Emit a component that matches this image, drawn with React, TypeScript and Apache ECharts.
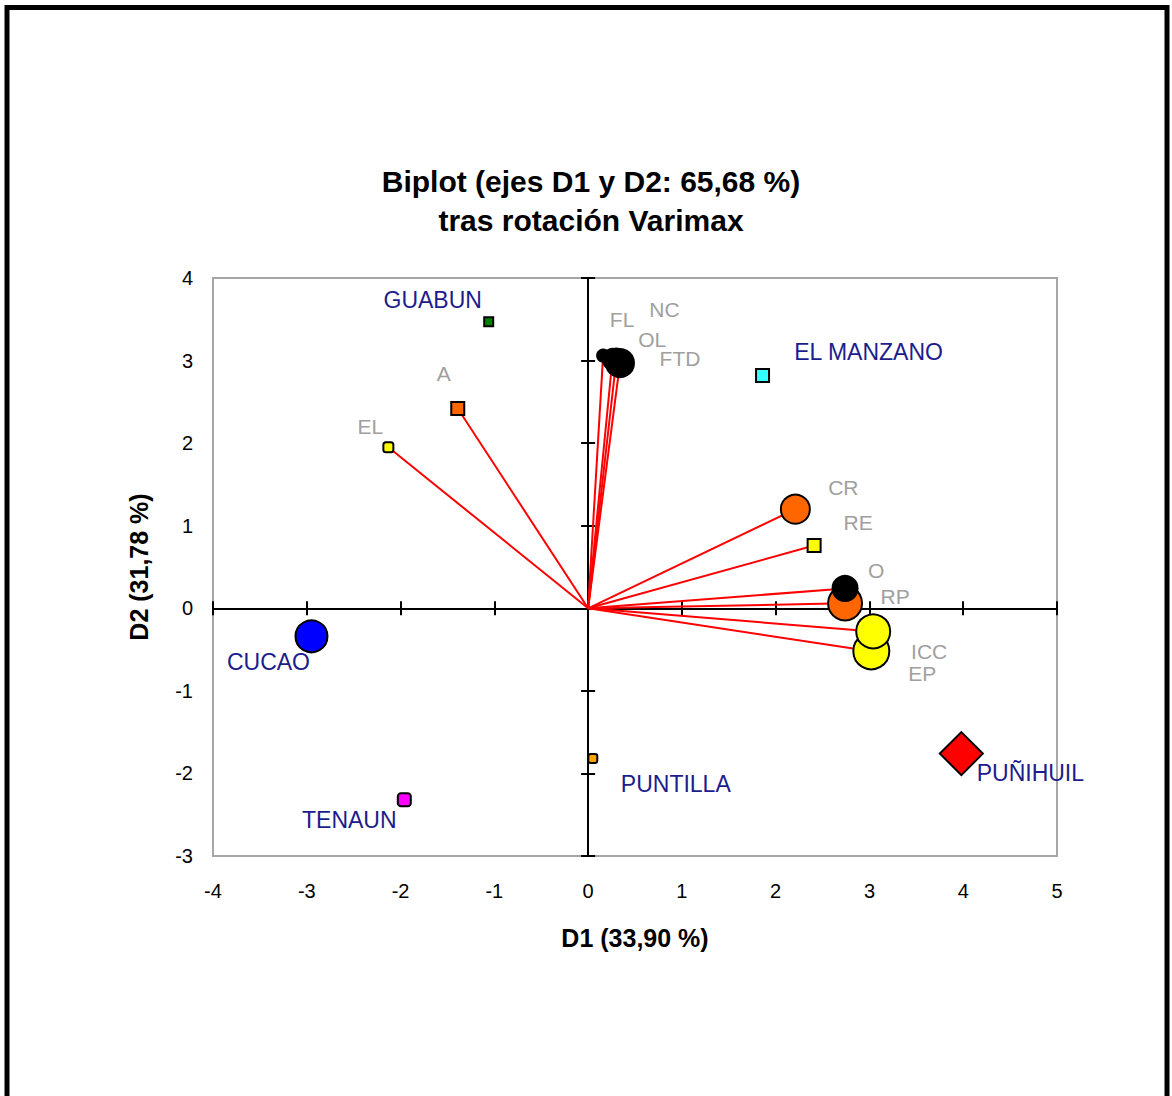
import React, { useEffect, useRef } from "react";
import * as echarts from "echarts";

// Variables (red vectors)
const varNames = ["A", "EL", "FL", "NC", "OL", "FTD", "CR", "RE", "RP", "O", "EP", "ICC"];
const varX = [-1.39, -2.13, 0.16, 0.26, 0.3, 0.34, 2.21, 2.41, 2.74, 2.74, 3.02, 3.04];
const varY = [2.42, 1.95, 3.06, 3.02, 3.0, 2.97, 1.2, 0.76, 0.06, 0.24, -0.52, -0.28];
const varColors = ["#ff6600", "#ffff00", "#000000", "#000000", "#000000", "#000000", "#ff6600", "#ffff00", "#ff6600", "#000000", "#ffff00", "#ffff00"];
const varSymbols = ["rect", "roundRect", "circle", "circle", "circle", "circle", "circle", "rect", "circle", "circle", "circle", "circle"];
const varSizes = [13, 10, 12, 20, 24, 28, 29, 13, 34, 25, 36, 34];
const varLabelOffsets = [[-14, -35], [-18, -21], [19, -36], [52, -49], [36, -21], [60, -5], [48, -22], [44, -23], [50, -7], [31, -18], [51, 22], [56, 20]];

// Observations
const obsNames = ["GUABUN", "EL MANZANO", "CUCAO", "TENAUN", "PUNTILLA", "PUÑIHUIL"];
const obsX = [-1.06, 1.86, -2.95, -1.96, 0.05, 3.98];
const obsY = [3.47, 2.82, -0.34, -2.32, -1.82, -1.76];
const obsColors = ["#008000", "#33ffff", "#0000ff", "#ff00ff", "#ffa500", "#ff0000"];
const obsSymbols = ["rect", "rect", "circle", "roundRect", "roundRect", "diamond"];
const obsSizes = [9, 13, 32, 13, 9, 43];
const obsLabelOffsets = [[-56, -22], [106, -23], [-43, 26], [-55, 20], [83, 25], [69, 19]];

const xTicks = { min: -4, max: 5, interval: 1 };
const yTicks = { min: -3, max: 4, interval: 1 };

const FONT = "'Liberation Sans', Arial, Helvetica, sans-serif";

export default function App() {
  const ref = useRef<HTMLDivElement>(null);
  useEffect(() => {
    if (!ref.current) return;
    const chart = echarts.init(ref.current, null, { renderer: "svg" });

    const baseX = { type: "value", min: xTicks.min, max: xTicks.max, interval: xTicks.interval, splitLine: { show: false } };
    const baseY = { type: "value", min: yTicks.min, max: yTicks.max, interval: yTicks.interval, splitLine: { show: false } };

    const option: any = {
      animation: false,
      backgroundColor: "#ffffff",
      textStyle: { fontFamily: FONT },
      grid: { left: 213, right: 115, top: 278, bottom: 240, show: true, borderColor: "#a6a6a6", borderWidth: 2, backgroundColor: "transparent" },
      graphic: [
        {
          type: "rect",
          shape: { x: 7, y: 7.5, width: 1160, height: 1200 },
          style: { fill: "none", stroke: "#000000", lineWidth: 5 },
          silent: true,
        },
        {
          type: "text",
          x: 591,
          y: 162,
          style: {
            text: "Biplot (ejes D1 y D2: 65,68 %)\ntras rotación Varimax",
            textAlign: "center",
            font: `bold 30px ${FONT}`,
            lineHeight: 39,
            fill: "#000000",
          },
        },
      ],
      xAxis: [
        {
          ...baseX,
          position: "bottom",
          name: "D1 (33,90 %)",
          nameLocation: "middle",
          nameGap: 69,
          nameTextStyle: { fontSize: 25, fontWeight: "bold", color: "#000", fontFamily: FONT },
          axisLine: { show: false, onZero: false },
          axisTick: { show: false },
          axisLabel: { margin: 25, fontSize: 20, color: "#000", fontFamily: FONT },
        },
        {
          ...baseX,
          position: "bottom",
          axisLine: { show: true, onZero: true, onZeroAxisIndex: 0, lineStyle: { color: "#000", width: 2 } },
          axisTick: { show: true, length: 7, lineStyle: { color: "#000", width: 2 } },
          axisLabel: { show: false },
        },
        {
          ...baseX,
          position: "top",
          axisLine: { show: true, onZero: true, onZeroAxisIndex: 0, lineStyle: { color: "#000", width: 2 } },
          axisTick: { show: true, length: 7, lineStyle: { color: "#000", width: 2 } },
          axisLabel: { show: false },
        },
      ],
      yAxis: [
        {
          ...baseY,
          position: "left",
          name: "D2 (31,78 %)",
          nameLocation: "middle",
          nameGap: 62,
          nameTextStyle: { fontSize: 25, fontWeight: "bold", color: "#000", fontFamily: FONT },
          axisLine: { show: false, onZero: false },
          axisTick: { show: false },
          axisLabel: { margin: 20, fontSize: 20, color: "#000", fontFamily: FONT },
        },
        {
          ...baseY,
          position: "left",
          axisLine: { show: true, onZero: true, onZeroAxisIndex: 0, lineStyle: { color: "#000", width: 2 } },
          axisTick: { show: true, length: 7, lineStyle: { color: "#000", width: 2 } },
          axisLabel: { show: false },
        },
        {
          ...baseY,
          position: "right",
          axisLine: { show: true, onZero: true, onZeroAxisIndex: 0, lineStyle: { color: "#000", width: 2 } },
          axisTick: { show: true, length: 7, lineStyle: { color: "#000", width: 2 } },
          axisLabel: { show: false },
        },
      ],
      series: [
        {
          type: "lines",
          coordinateSystem: "cartesian2d",
          xAxisIndex: 0,
          yAxisIndex: 0,
          z: 3,
          silent: true,
          lineStyle: { color: "#ff0000", width: 2, opacity: 1 },
          data: varNames.map((_, i) => ({ coords: [[0, 0], [varX[i], varY[i]]] })),
        },
        {
          type: "scatter",
          xAxisIndex: 0,
          yAxisIndex: 0,
          z: 4,
          data: varNames.map((n, i) => ({
            name: n,
            value: [varX[i], varY[i]],
            symbol: varSymbols[i],
            symbolSize: varSizes[i],
            itemStyle: { color: varColors[i], borderColor: "#000", borderWidth: 2, opacity: 1 },
            label: {
              show: true,
              formatter: n,
              position: "inside",
              offset: varLabelOffsets[i],
              color: "#a0a0a0",
              fontSize: 21,
              fontFamily: FONT,
            },
          })),
        },
        {
          type: "scatter",
          xAxisIndex: 0,
          yAxisIndex: 0,
          z: 4,
          data: obsNames.map((n, i) => ({
            name: n,
            value: [obsX[i], obsY[i]],
            symbol: obsSymbols[i],
            symbolSize: obsSizes[i],
            itemStyle: { color: obsColors[i], borderColor: "#000", borderWidth: 2, opacity: 1 },
            label: {
              show: true,
              formatter: n,
              position: "inside",
              offset: obsLabelOffsets[i],
              color: "#1c1c8c",
              fontSize: 23,
              fontFamily: FONT,
            },
          })),
        },
      ],
    };
    chart.setOption(option);
    return () => chart.dispose();
  }, []);
  return (
    <div
      ref={ref}
      style={{ position: "fixed", left: 0, top: 0, width: 1172, height: 1096, background: "#fff" }}
    />
  );
}
